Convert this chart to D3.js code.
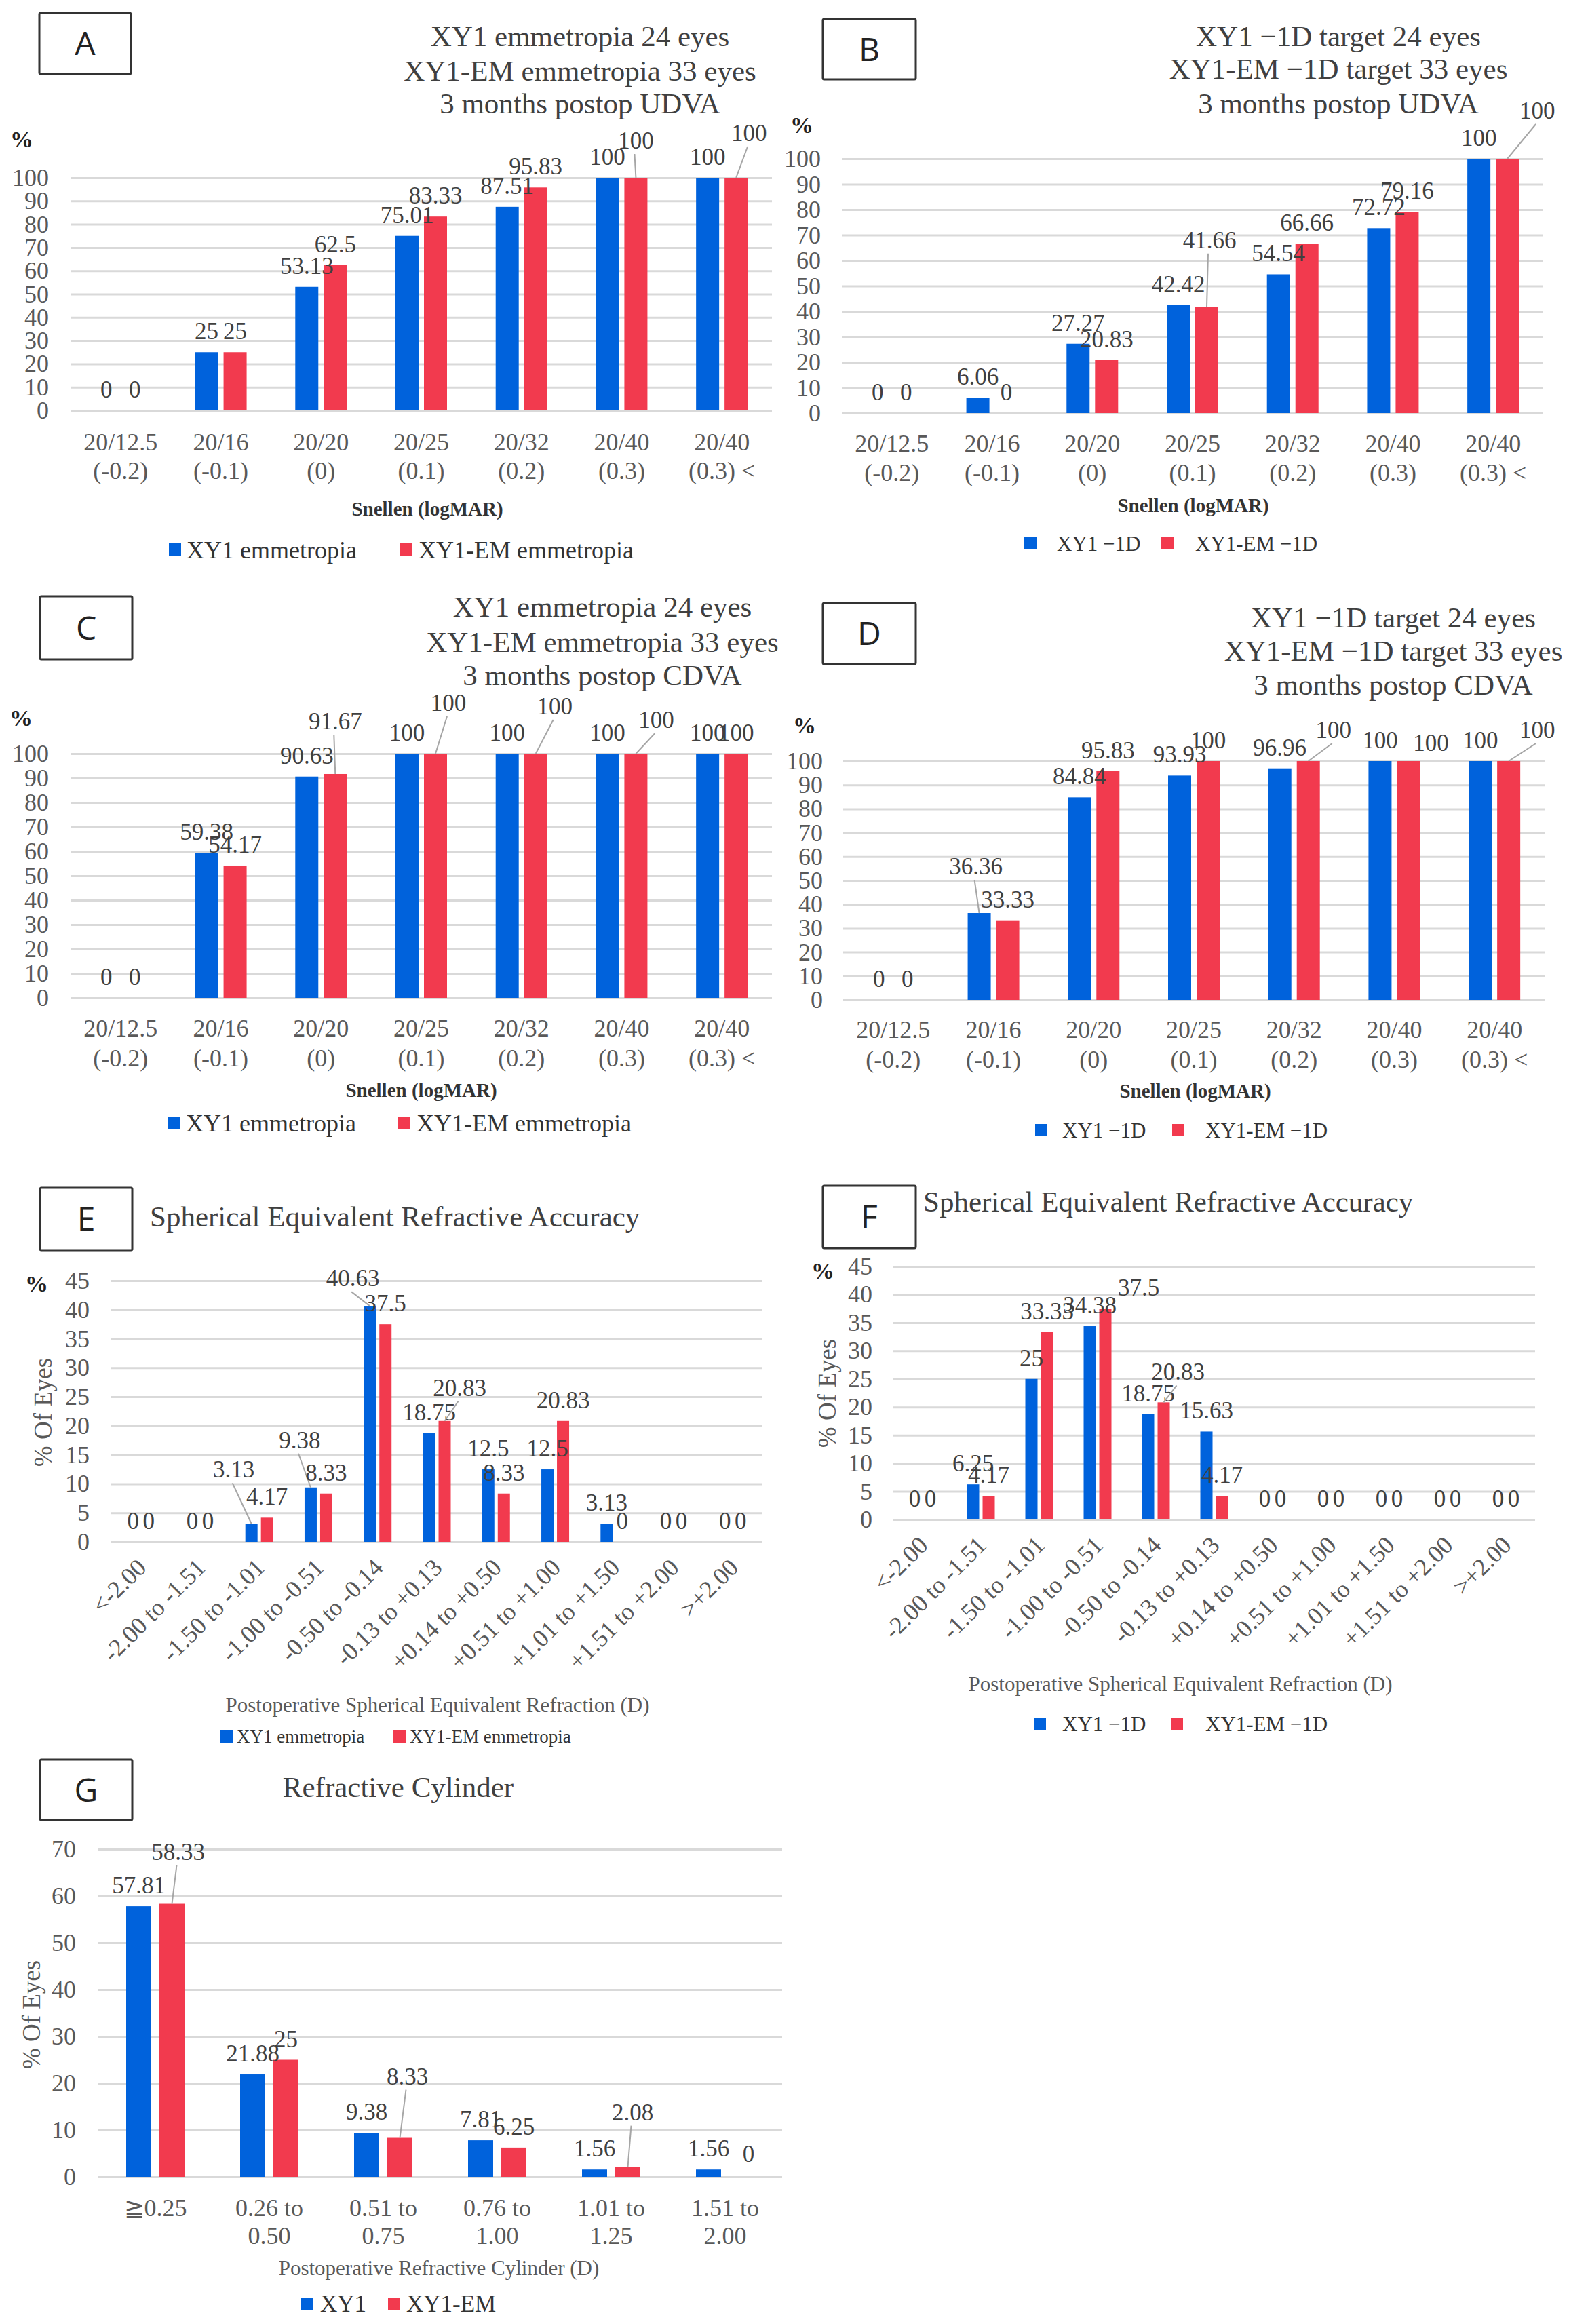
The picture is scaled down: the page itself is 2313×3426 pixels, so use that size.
<!DOCTYPE html>
<html>
<head>
<meta charset="utf-8">
<script src="https://cdn.jsdelivr.net/npm/d3@7"></script>
<style>
body { margin: 0; background: #fff; }
text { font-family: "Liberation Serif", "Times New Roman", serif; }
</style>
</head>
<body>
<div id="chart"></div>
<script>
// categories
const snellenCats = [["20/12.5","(-0.2)"],["20/16","(-0.1)"],["20/20","(0)"],["20/25","(0.1)"],["20/32","(0.2)"],["20/40","(0.3)"],["20/40","(0.3) <"]];
const seCats = ["<-2.00","-2.00 to -1.51","-1.50 to -1.01","-1.00 to -0.51","-0.50 to -0.14","-0.13 to +0.13","+0.14 to +0.50","+0.51 to +1.00","+1.01 to +1.50","+1.51 to +2.00",">+2.00"];
const cylCats = [["≧0.25"],["0.26 to","0.50"],["0.51 to","0.75"],["0.76 to","1.00"],["1.01 to","1.25"],["1.51 to","2.00"]];

// values (%)
const udvaEmXY1   = [0, 25, 53.13, 75.01, 87.51, 100, 100];
const udvaEmXY1EM = [0, 25, 62.5, 83.33, 95.83, 100, 100];
const udvaMyXY1   = [0, 6.06, 27.27, 42.42, 54.54, 72.72, 100];
const udvaMyXY1EM = [0, 0, 20.83, 41.66, 66.66, 79.16, 100];
const cdvaEmXY1   = [0, 59.38, 90.63, 100, 100, 100, 100];
const cdvaEmXY1EM = [0, 54.17, 91.67, 100, 100, 100, 100];
const cdvaMyXY1   = [0, 36.36, 84.84, 93.93, 96.96, 100, 100];
const cdvaMyXY1EM = [0, 33.33, 95.83, 100, 100, 100, 100];
const seEmXY1     = [0, 0, 3.13, 9.38, 40.63, 18.75, 12.5, 12.5, 3.13, 0, 0];
const seEmXY1EM   = [0, 0, 4.17, 8.33, 37.5, 20.83, 8.33, 20.83, 0, 0, 0];
const seMyXY1     = [0, 6.25, 25, 34.38, 18.75, 15.63, 0, 0, 0, 0, 0];
const seMyXY1EM   = [0, 4.17, 33.33, 37.5, 20.83, 4.17, 0, 0, 0, 0, 0];
const cylXY1      = [57.81, 21.88, 9.38, 7.81, 1.56, 1.56];
const cylXY1EM    = [58.33, 25, 8.33, 6.25, 2.08, 0];

// tick labels
const pctTicks = [0,10,20,30,40,50,60,70,80,90,100];
const seTicks  = [0,5,10,15,20,25,30,35,40,45];
const cylTicks = [0,10,20,30,40,50,60,70];

const BLUE = "#0062dc", RED = "#f23a4e";
const SERIF = "'Liberation Serif', 'Times New Roman', serif";

const svg = d3.select("#chart").append("svg")
    .attr("width", 2313)
    .attr("height", 3426)
    .style("background", "#fff");

// layout of each panel (label nudges: "series,index": [dx, dy, leader])
const panels = [
  { letter:"A", box:[58,19,135,90],
    title:["XY1 emmetropia 24 eyes","XY1-EM emmetropia 33 eyes","3 months postop UDVA"], titleX:855, titleY:[68,119,167], anchor:"middle",
    x0:104, x1:1138, yTop:262, yBot:605, ticks:pctTicks, yLabX:72, pct:[32,217],
    cats:snellenCats, series:[udvaEmXY1, udvaEmXY1EM], names:["XY1 emmetropia","XY1-EM emmetropia"],
    barW:34, gap:8, catY:[664,706],
    xTitle:"Snellen (logMAR)", xTitlePos:[630,760], xBold:true,
    legend:{y:810, sq:[249,589], tx:[275,617], size:36},
    nudge:{"1,5":[0,-24,1],"1,6":[19,-35,1]} },
  { letter:"B", box:[1213,28,137,89],
    title:["XY1 \u22121D target 24 eyes","XY1-EM \u22121D target 33 eyes","3 months postop UDVA"], titleX:1973, titleY:[68,116,167], anchor:"middle",
    x0:1241, x1:2275, yTop:234, yBot:609, ticks:pctTicks, yLabX:1210, pct:[1182,196],
    cats:snellenCats, series:[udvaMyXY1, udvaMyXY1EM], names:["XY1 \u22121D","XY1-EM \u22121D"],
    barW:34, gap:8, catY:[666,709],
    xTitle:"Snellen (logMAR)", xTitlePos:[1759,755], xBold:true,
    legend:{y:801, sq:[1510,1712], tx:[1558,1762], size:31},
    nudge:{"1,3":[4,-68,1],"1,6":[44,-40,1]} },
  { letter:"C", box:[59,879,136,93],
    title:["XY1 emmetropia 24 eyes","XY1-EM emmetropia 33 eyes","3 months postop CDVA"], titleX:888, titleY:[909,961,1010], anchor:"middle",
    x0:104, x1:1138, yTop:1111, yBot:1471, ticks:pctTicks, yLabX:72, pct:[31,1070],
    cats:snellenCats, series:[cdvaEmXY1, cdvaEmXY1EM], names:["XY1 emmetropia","XY1-EM emmetropia"],
    barW:34, gap:8, catY:[1528,1572],
    xTitle:"Snellen (logMAR)", xTitlePos:[621,1617], xBold:true,
    legend:{y:1655, sq:[248,587], tx:[274,614], size:36},
    nudge:{"1,2":[0,-47,1],"1,3":[19,-44,1],"1,4":[28,-39,1],"1,5":[30,-19,1]} },
  { letter:"D", box:[1213,889,137,90],
    title:["XY1 \u22121D target 24 eyes","XY1-EM \u22121D target 33 eyes","3 months postop CDVA"], titleX:2054, titleY:[925,974,1024], anchor:"middle",
    x0:1243, x1:2277, yTop:1122, yBot:1474, ticks:pctTicks, yLabX:1213, pct:[1186,1081],
    cats:snellenCats, series:[cdvaMyXY1, cdvaMyXY1EM], names:["XY1 \u22121D","XY1-EM \u22121D"],
    barW:34, gap:8, catY:[1530,1574],
    xTitle:"Snellen (logMAR)", xTitlePos:[1762,1618], xBold:true,
    legend:{y:1666, sq:[1526,1728], tx:[1566,1777], size:31},
    nudge:{"0,1":[-5,-38,1],"1,4":[37,-15,1],"1,5":[33,4,0],"1,6":[42,-15,1]} },
  { letter:"E", box:[59,1751,136,92],
    title:["Spherical Equivalent Refractive Accuracy"], titleX:221, titleY:[1808], anchor:"start",
    x0:164, x1:1124, yTop:1888, yBot:2273, ticks:seTicks, yLabX:132, pct:[54,1904],
    yTitle:"% Of Eyes", yTitlePos:[63,2082],
    cats:seCats, rotate:true, series:[seEmXY1, seEmXY1EM], names:["XY1 emmetropia","XY1-EM emmetropia"],
    barW:18, gap:5,
    xTitle:"Postoperative Spherical Equivalent Refraction (D)", xTitlePos:[645,2524], xBold:false,
    legend:{y:2560, sq:[325,580], tx:[349,604], size:27},
    nudge:{"0,2":[-26,-49,1],"0,3":[-16,-39,1],"0,4":[-25,-10,1],"1,5":[22,-18,1]} },
  { letter:"F", box:[1213,1748,137,92],
    title:["Spherical Equivalent Refractive Accuracy"], titleX:1361, titleY:[1786], anchor:"start",
    x0:1317, x1:2263, yTop:1867, yBot:2240, ticks:seTicks, yLabX:1286, pct:[1213,1885],
    yTitle:"% Of Eyes", yTitlePos:[1219,2054],
    cats:seCats, rotate:true, series:[seMyXY1, seMyXY1EM], names:["XY1 \u22121D","XY1-EM \u22121D"],
    barW:18, gap:5,
    xTitle:"Postoperative Spherical Equivalent Refraction (D)", xTitlePos:[1740,2493], xBold:false,
    legend:{y:2541, sq:[1524,1726], tx:[1566,1777], size:31},
    nudge:{"1,3":[49,0,0],"1,4":[21,-14,1]} },
  { letter:"G", box:[59,2594,136,89],
    title:["Refractive Cylinder"], titleX:587, titleY:[2649], anchor:"middle",
    x0:145, x1:1153, yTop:2726, yBot:3209, ticks:cylTicks, yLabX:112,
    yTitle:"% Of Eyes", yTitlePos:[46,2970],
    cats:cylCats, series:[cylXY1, cylXY1EM], names:["XY1","XY1-EM"],
    barW:37, gap:12, catY:[3267,3308],
    xTitle:"Postoperative Refractive Cylinder (D)", xTitlePos:[647,3354], xBold:false,
    legend:{y:3396, sq:[444,572], tx:[472,599], size:35},
    nudge:{"1,0":[9,-46,1],"1,2":[11,-60,1],"1,4":[7,-50,1],"1,5":[10,-3,0]} }
];

function drawPanel(p) {
  const g = svg.append("g");

  // panel letter box
  g.append("rect")
    .attr("x", p.box[0]).attr("y", p.box[1])
    .attr("width", p.box[2]).attr("height", p.box[3])
    .attr("fill", "none").attr("stroke", "#333").attr("stroke-width", 3).attr("rx", 2);
  g.append("text")
    .attr("x", p.box[0] + p.box[2] / 2).attr("y", p.box[1] + p.box[3] / 2)
    .attr("dy", "0.36em").attr("text-anchor", "middle")
    .style("font-family", "'Open Sans', 'Noto Sans', sans-serif").style("font-size", "48px")
    .attr("fill", "#222").text(p.letter);

  // title
  p.title.forEach((t, i) => {
    g.append("text").attr("x", p.titleX).attr("y", p.titleY[i])
      .attr("text-anchor", p.anchor).style("font-size", "43px").attr("fill", "#404040").text(t);
  });

  const y = d3.scaleLinear().domain([0, p.ticks[p.ticks.length - 1]]).range([p.yBot, p.yTop]);
  const x = d3.scaleBand().domain(d3.range(p.cats.length)).range([p.x0, p.x1]);

  // grid + y tick labels
  const ya = g.append("g").attr("transform", `translate(${p.x0},0)`)
    .call(d3.axisLeft(y).tickValues(p.ticks).tickSize(-(p.x1 - p.x0)).tickPadding(p.x0 - p.yLabX))
    .attr("font-family", SERIF);
  ya.select(".domain").remove();
  ya.selectAll(".tick line").attr("stroke", "#d9d9d9").attr("stroke-width", 3);
  ya.selectAll(".tick text").style("font-size", "36px").style("font-family", SERIF).attr("fill", "#595959");

  if (p.pct) {
    g.append("text").attr("x", p.pct[0]).attr("y", p.pct[1]).attr("text-anchor", "middle")
      .style("font-size", "34px").style("font-weight", "bold").attr("fill", "#222").text("%");
  }
  if (p.yTitle) {
    g.append("text").attr("transform", `translate(${p.yTitlePos[0]},${p.yTitlePos[1]}) rotate(-90)`)
      .attr("dy", "0.35em").attr("text-anchor", "middle").style("font-size", "37px")
      .attr("fill", "#595959").text(p.yTitle);
  }

  // x tick labels
  const xa = g.append("g").attr("transform", `translate(0,${p.yBot})`)
    .call(d3.axisBottom(x).tickSize(0).tickFormat(""))
    .attr("font-family", SERIF);
  xa.select(".domain").remove();
  xa.selectAll(".tick text").each(function (i) {
    const t = d3.select(this).attr("y", null).attr("dy", null)
      .style("font-size", "36px").style("font-family", SERIF).attr("fill", "#595959");
    if (p.rotate) {
      t.attr("text-anchor", "end").attr("transform", `translate(10,40) rotate(-45)`).text(p.cats[i]);
    } else {
      p.cats[i].forEach((line, k) => {
        t.append("tspan").attr("x", 0).attr("y", p.catY[k] - p.yBot).text(line);
      });
    }
  });

  // bars first, then labels on top
  const off = (p.barW + p.gap) / 2;
  const colors = [BLUE, RED];
  const cxOf = s => i => x(i) + x.bandwidth() / 2 + (s === 0 ? -off : off);
  p.series.forEach((vals, s) => {
    const cx = cxOf(s);
    g.append("g").selectAll("rect").data(vals).join("rect")
      .attr("x", (d, i) => cx(i) - p.barW / 2)
      .attr("y", d => y(d))
      .attr("width", p.barW)
      .attr("height", d => y(0) - y(d))
      .attr("fill", colors[s]);
  });
  p.series.forEach((vals, s) => {
    const cx = cxOf(s);
    vals.forEach((d, i) => {
      const n = p.nudge[s + "," + i] || [0, 0, 0];
      const lx = cx(i) + n[0];
      const ly = y(d) - 19 + n[1];
      if (n[2]) {
        g.append("line").attr("x1", lx - 2).attr("y1", ly + 8)
          .attr("x2", cx(i)).attr("y2", y(d))
          .attr("stroke", "#a6a6a6").attr("stroke-width", 2);
      }
      g.append("text").attr("x", lx).attr("y", ly).attr("text-anchor", "middle")
        .style("font-size", "35px").style("font-family", SERIF).attr("fill", "#404040").text(d);
    });
  });

  // axis title
  g.append("text").attr("x", p.xTitlePos[0]).attr("y", p.xTitlePos[1]).attr("text-anchor", "middle")
    .style("font-size", p.xBold ? "29px" : "31px").style("font-weight", p.xBold ? "bold" : "normal")
    .attr("fill", p.xBold ? "#333" : "#595959").text(p.xTitle);

  // legend
  p.names.forEach((name, s) => {
    g.append("rect").attr("x", p.legend.sq[s]).attr("y", p.legend.y - 9)
      .attr("width", 18).attr("height", 18).attr("fill", colors[s]);
    g.append("text").attr("x", p.legend.tx[s]).attr("y", p.legend.y).attr("dy", "0.35em")
      .style("font-size", p.legend.size + "px").attr("fill", "#333").text(name);
  });
}

panels.forEach(drawPanel);
</script>
</body>
</html>
